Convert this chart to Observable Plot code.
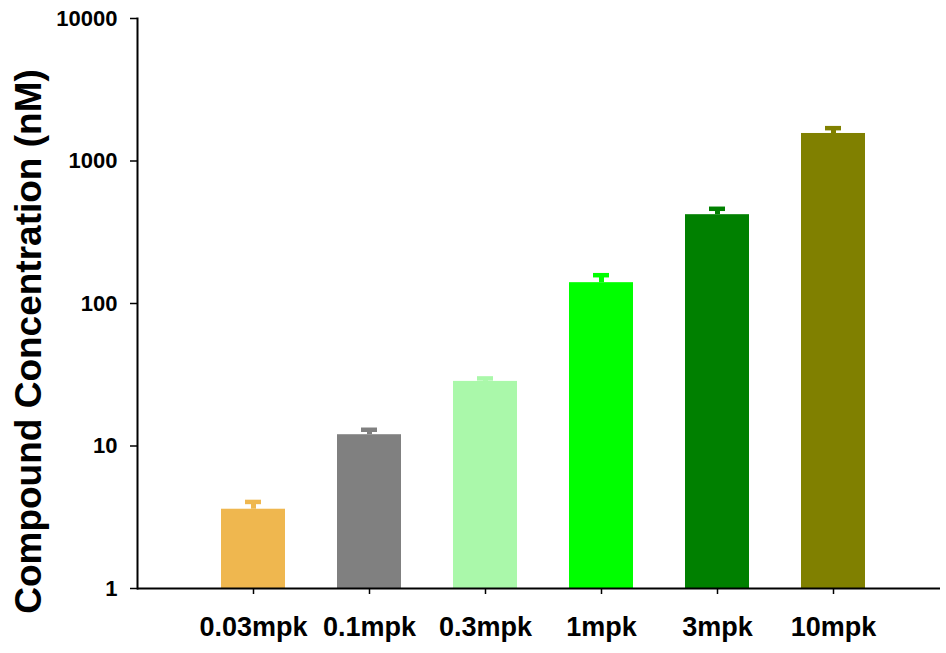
<!DOCTYPE html>
<html>
<head>
<meta charset="utf-8">
<script src="https://cdn.jsdelivr.net/npm/d3@7"></script>
<script src="https://cdn.jsdelivr.net/npm/@observablehq/plot@0.6"></script>
<style>
  html, body { margin: 0; padding: 0; background: #fff; }
</style>
</head>
<body>
<div id="chart"></div>
<script>
const categories = ["0.03mpk", "0.1mpk", "0.3mpk", "1mpk", "3mpk", "10mpk"];
const means = [3.6, 12.0, 28.4, 140, 420, 1560];
const upper = [4.05, 13.0, 29.8, 158, 462, 1700];
const colors = ["#EFB74F", "#808080", "#AAF8AA", "#00FF00", "#008000", "#808000"];
const yTicks = [1, 10, 100, 1000, 10000];
const yTitle = "Compound Concentration (nM)";

const data = categories.map((c, i) => ({cat: c, mean: means[i], hi: upper[i]}));

const chart = Plot.plot({
  width: 946,
  height: 653,
  marginLeft: 137,
  marginRight: 6,
  marginTop: 18,
  marginBottom: 65,
  style: {fontFamily: "'Liberation Sans', Arial, sans-serif", fontWeight: "bold", color: "black", background: "white"},
  x: {domain: categories, paddingInner: 0.449, paddingOuter: 0.68, align: 0.53, label: null},
  y: {type: "log", domain: [1, 10000], label: null},
  color: {domain: categories, range: colors},
  marks: [
    Plot.barY(data, {x: "cat", y1: 1, y2: "mean", fill: "cat"}),
    Plot.ruleX(data, {x: "cat", y1: "mean", y2: "hi", stroke: "cat", strokeWidth: 5}),
    Plot.tickY(data, {x: "cat", y: "hi", stroke: "cat", strokeWidth: 4.5, insetLeft: 24, insetRight: 24}),
    Plot.ruleY([1], {stroke: "black", strokeWidth: 2}),
    Plot.frame({anchor: "left", stroke: "black", strokeWidth: 2}),
    Plot.axisY({ticks: yTicks, tickFormat: d => String(d), tickSize: 7, tickPadding: 13, fontSize: 22, strokeWidth: 1.5, label: null}),
    Plot.axisX({tickSize: 6, tickPadding: 22, fontSize: 27, strokeWidth: 1.5, label: null}),
    Plot.text([yTitle], {frameAnchor: "left", textAnchor: "middle", rotate: -90, dx: -97, dy: 38, lineAnchor: "bottom", fontSize: 37, fontWeight: "bold", fill: "black"})
  ]
});
document.getElementById("chart").appendChild(chart);
</script>
</body>
</html>
